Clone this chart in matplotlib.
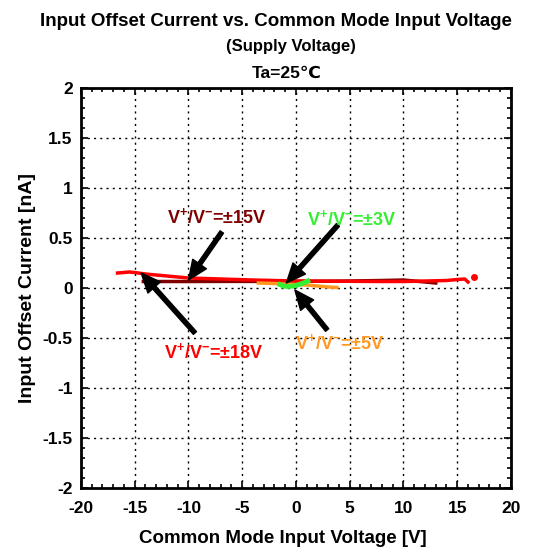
import matplotlib
matplotlib.use("Agg")
import matplotlib.pyplot as plt
from matplotlib.ticker import MultipleLocator

plt.rcParams['font.family'] = ['Liberation Sans', 'DejaVu Sans']
plt.rcParams['font.weight'] = 'bold'
plt.rcParams['mathtext.fontset'] = 'custom'
plt.rcParams['mathtext.bf'] = 'Liberation Sans:bold'
plt.rcParams['mathtext.rm'] = 'Liberation Sans:bold'
plt.rcParams['mathtext.default'] = 'bf'

# V+/V- = +-15V
v15_x = [-14.2, -12, -10, -7, -5, -2, 0, 3, 5, 8, 10, 11, 12, 13]
v15_y = [0.065, 0.065, 0.065, 0.066, 0.066, 0.066, 0.066, 0.068, 0.07, 0.075, 0.08, 0.07, 0.06, 0.05]

# V+/V- = +-18V
v18_x = [-16.6, -15.5, -15, -14, -12, -10, -7, -4, 0, 4, 8, 10, 12, 14, 15, 15.7, 16.0]
v18_y = [0.15, 0.16, 0.155, 0.14, 0.12, 0.10, 0.09, 0.08, 0.07, 0.068, 0.065, 0.065, 0.07, 0.075, 0.085, 0.09, 0.06]
v18_dot_x = [16.6]
v18_dot_y = [0.11]

# V+/V- = +-5V
v5_x = [-3.5, -2, -1, 0, 1, 2, 3, 3.8]
v5_y = [0.05, 0.045, 0.04, 0.035, 0.03, 0.02, 0.01, 0.005]

# V+/V- = +-3V
v3_x = [-1.5, -1.2, -0.8, -0.4, 0, 0.4, 0.8, 1.1]
v3_y = [0.035, 0.02, 0.015, 0.018, 0.025, 0.04, 0.055, 0.07]

c15 = '#800000'
c18 = '#ff0000'
c5 = '#ff9922'
c3 = '#33ee33'

fig = plt.figure(figsize=(5.45, 5.51), dpi=100)
ax = fig.add_axes([0.1486, 0.1143, 0.789, 0.7260])

ax.plot(v15_x, v15_y, color=c15, lw=2.5)
ax.plot(v18_x, v18_y, color=c18, lw=2.5)
ax.plot(v18_dot_x, v18_dot_y, 'o', color=c18, ms=4)
ax.plot(v5_x, v5_y, color=c5, lw=2.5)
ax.plot(v3_x, v3_y, color=c3, lw=3.5)

ax.set_xlim(-20, 20)
ax.set_ylim(-2, 2)
ax.xaxis.set_minor_locator(MultipleLocator(1))
ax.yaxis.set_minor_locator(MultipleLocator(0.1))
ax.set_xticks(range(-20, 21, 5))
ax.set_xticklabels([str(v) for v in range(-20, 21, 5)])
yt = [-2, -1.5, -1, -0.5, 0, 0.5, 1, 1.5, 2]
ax.set_yticks(yt)
ax.set_yticklabels(['%g' % v for v in yt])
ax.tick_params(which='both', direction='in', top=True, right=True, labelsize=12.5, width=1.2)
ax.tick_params(which='major', length=5)
ax.tick_params(which='minor', length=3)
ax.tick_params(axis='x', which='major', pad=9)
ax.tick_params(axis='y', which='major', pad=6)
ax.grid(True, which='major', color='black', linestyle=(0, (1.5, 3)), linewidth=1)
for s in ax.spines.values():
    s.set_linewidth(2)

ax.set_xlabel('Common Mode Input Voltage [V]', fontsize=13.5, fontweight='bold', labelpad=14)
ax.xaxis.set_label_coords(0.47, -0.105)
ax.set_ylabel('Input Offset Current [nA]', fontsize=14, fontweight='bold', labelpad=5)

fig.text(0.507, 1 - 21 / 551, 'Input Offset Current vs. Common Mode Input Voltage',
         ha='center', va='center', fontsize=13.5, fontweight='bold')
fig.text(291 / 545, 1 - 46 / 551, '(Supply Voltage)', ha='center', va='center', fontsize=12, fontweight='bold')
fig.text(287 / 545, 1 - 73 / 551, 'Ta=25\u2103', ha='center', va='center', fontsize=12.5, fontweight='bold')

arrow = dict(facecolor='black', edgecolor='black', width=3, headwidth=12, headlength=14, shrink=0)
ax.annotate('', xy=(-10.0, 0.08), xytext=(-6.9, 0.56), arrowprops=arrow)
ax.annotate('', xy=(-0.9, 0.05), xytext=(3.9, 0.63), arrowprops=arrow)
ax.annotate('', xy=(-14.4, 0.15), xytext=(-9.4, -0.45), arrowprops=arrow)
ax.annotate('', xy=(-0.1, -0.02), xytext=(2.9, -0.42), arrowprops=arrow)

ax.text(-7.4, 0.71, r'V$^{+}$/V$^{-}$=±15V', color=c15, fontsize=13, ha='center', va='center')
ax.text(5.2, 0.69, r'V$^{+}$/V$^{-}$=±3V', color=c3, fontsize=13, ha='center', va='center')
ax.text(-7.7, -0.64, r'V$^{+}$/V$^{-}$=±18V', color=c18, fontsize=13, ha='center', va='center')
ax.text(4.1, -0.55, r'V$^{+}$/V$^{-}$=±5V', color=c5, fontsize=13, ha='center', va='center')

fig.savefig('out.png', dpi=100)
